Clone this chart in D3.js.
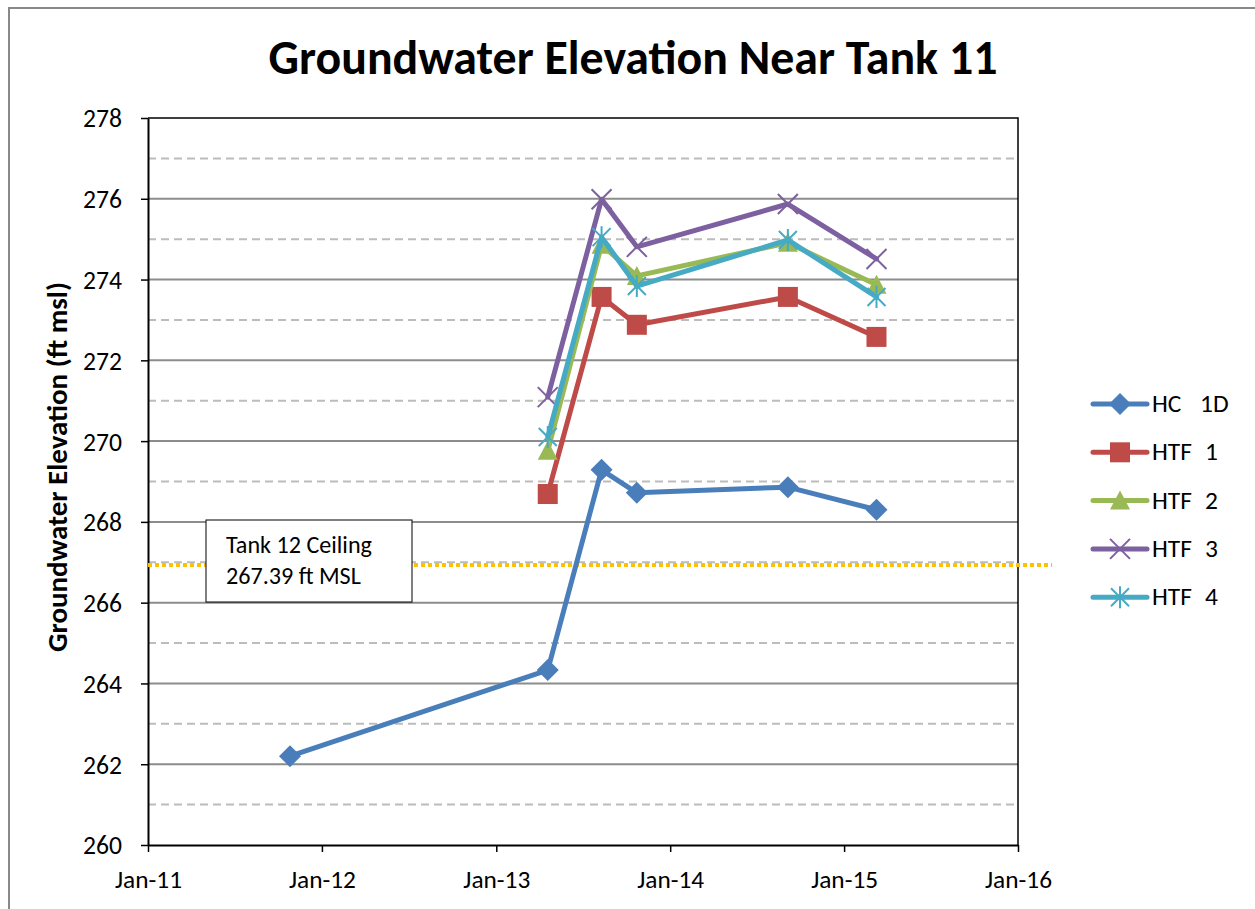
<!DOCTYPE html>
<html>
<head>
<meta charset="utf-8">
<script src="https://cdn.jsdelivr.net/npm/d3@7"></script>
<style>
  body { margin: 0; background: #fff; }
  svg text { font-family: Carlito, Lato, "Liberation Sans", sans-serif; white-space: pre; }
</style>
</head>
<body>
<div id="chart"></div>
<script>
// sampling dates
const dates = ["2011-10-26", "2013-04-19", "2013-08-10", "2013-10-23", "2014-09-05", "2015-03-10"];

// series values, ft msl (null = no reading)
const hc1d = [262.2, 264.33, 269.29, 268.72, 268.86, 268.30];
const htf1 = [null, 268.69, 273.57, 272.88, 273.57, 272.58];
const htf2 = [null, 269.76, 274.86, 274.09, 274.91, 273.87];
const htf3 = [null, 271.09, 275.99, 274.81, 275.87, 274.51];
const htf4 = [null, 270.10, 275.05, 273.84, 274.98, 273.57];

const seriesNames = [["HC", "1D"], ["HTF", "1"], ["HTF", "2"], ["HTF", "3"], ["HTF", "4"]];
const seriesColors = ["#4a7ebb", "#be4b48", "#98b954", "#7d60a0", "#46aac5"];
const seriesMarkers = ["diamond", "square", "triangle", "x", "star"];

const yTicks = [260, 262, 264, 266, 268, 270, 272, 274, 276, 278];
const yMinor = [261, 263, 265, 267, 269, 271, 273, 275, 277];
const xTicks = ["2011-01-01", "2012-01-01", "2013-01-01", "2014-01-01", "2015-01-01", "2016-01-01"];

const ceilingLevel = 266.93;
const ceilingLabel = ["Tank 12 Ceiling", "267.39 ft MSL"];

const W = 1255, H = 909;
const margin = { top: 118, right: 237, bottom: 64, left: 148 };
const parse = d3.timeParse("%Y-%m-%d");

// scale a text's font size so that it spans the given width
function fitWidth(sel, target) {
  const fs = +sel.attr("font-size");
  const w = sel.node().getComputedTextLength();
  const size = fs * target / w;
  sel.attr("font-size", size);
  return size;
}

const svg = d3.select("#chart").append("svg")
  .attr("width", W).attr("height", H);

// outer chart frame
svg.append("path")
  .attr("d", `M9,${H} V8 H${W}`)
  .attr("fill", "none").attr("stroke", "#888").attr("stroke-width", 2);

const x = d3.scaleTime()
  .domain([parse(xTicks[0]), parse(xTicks[xTicks.length - 1])])
  .range([margin.left, W - margin.right]);
const y = d3.scaleLinear()
  .domain([260, 278])
  .range([H - margin.bottom, margin.top]);

// title
const title = svg.append("text")
  .attr("x", 633).attr("y", 74)
  .attr("text-anchor", "middle")
  .attr("font-size", 40).attr("font-weight", "bold")
  .text("Groundwater Elevation Near Tank 11");
fitWidth(title, 729);

// gridlines
svg.append("g").selectAll("line").data(yMinor).join("line")
  .attr("x1", x.range()[0]).attr("x2", x.range()[1])
  .attr("y1", d => y(d)).attr("y2", d => y(d))
  .attr("stroke", "#bcbcbc").attr("stroke-width", 2).attr("stroke-dasharray", "8,5");
svg.append("g").selectAll("line").data(yTicks.slice(1, -1)).join("line")
  .attr("x1", x.range()[0]).attr("x2", x.range()[1])
  .attr("y1", d => y(d)).attr("y2", d => y(d))
  .attr("stroke", "#8c8c8c").attr("stroke-width", 2);

// plot frame (top + right)
svg.append("path")
  .attr("d", `M${x.range()[0]},${y(278)} H${x.range()[1]} V${y(260)}`)
  .attr("fill", "none").attr("stroke", "#000").attr("stroke-width", 1.5);

// axes
const yAxis = svg.append("g")
  .attr("transform", `translate(${margin.left},0)`)
  .call(d3.axisLeft(y).tickValues(yTicks).tickSize(7).tickSizeOuter(0).tickPadding(19));
const xAxis = svg.append("g")
  .attr("transform", `translate(0,${H - margin.bottom})`)
  .call(d3.axisBottom(x).tickValues(xTicks.map(parse)).tickSize(7).tickSizeOuter(0)
    .tickFormat(d3.timeFormat("%b-%y")));
[[yAxis, 39], [xAxis, 67]].forEach(([a, target]) => {
  a.select(".domain").attr("stroke", "#000").attr("stroke-width", 2);
  a.selectAll(".tick line").attr("stroke", "#000").attr("stroke-width", 1.5);
  const labels = a.selectAll(".tick text").attr("font-size", 20).attr("fill", "#000")
    .attr("font-family", "Carlito, Lato, 'Liberation Sans', sans-serif");
  const size = fitWidth(d3.select(labels.node()), target);
  labels.attr("font-size", size);
});
xAxis.selectAll(".tick text").attr("y", 43).attr("dy", 0);
yAxis.selectAll(".tick text").attr("dy", "0.35em");

// axis title
const yTitle = svg.append("text")
  .attr("transform", `translate(67,467) rotate(-90)`)
  .attr("text-anchor", "middle")
  .attr("font-size", 20).attr("font-weight", "bold")
  .text("Groundwater Elevation (ft msl)");
fitWidth(yTitle, 370);

// ceiling line
svg.append("line")
  .attr("x1", x.range()[0]).attr("x2", 1052)
  .attr("y1", y(ceilingLevel)).attr("y2", y(ceilingLevel))
  .attr("stroke", "#ffc000").attr("stroke-width", 4).attr("stroke-dasharray", "4,3");

// annotation box
svg.append("rect")
  .attr("x", 206).attr("y", 520).attr("width", 206).attr("height", 82)
  .attr("fill", "#fff").attr("stroke", "#000").attr("stroke-width", 1);
const note = svg.append("text")
  .attr("x", 226).attr("y", 553)
  .attr("font-size", 20);
note.selectAll("tspan").data(ceilingLabel).join("tspan")
  .attr("x", 226).attr("dy", (d, i) => i ? 31 : 0)
  .text(d => d);
{
  const first = note.select("tspan").node();
  const w = first.getComputedTextLength();
  note.attr("font-size", 20 * 146 / w);
}

// markers
function drawMarker(g, type, color) {
  if (type === "diamond") {
    g.append("path").attr("d", "M0,-11 L11,0 L0,11 L-11,0Z").attr("fill", color);
  } else if (type === "square") {
    g.append("rect").attr("x", -10).attr("y", -10).attr("width", 20).attr("height", 20).attr("fill", color);
  } else if (type === "triangle") {
    g.append("path").attr("d", "M0,-10 L10,9 L-10,9Z").attr("fill", color);
  } else if (type === "x") {
    g.append("path").attr("d", "M-10,-10 L10,10 M10,-10 L-10,10")
      .attr("stroke", color).attr("stroke-width", 2);
  } else {
    g.append("path").attr("d", "M-9,-9 L9,9 M9,-9 L-9,9 M0,-11 V11")
      .attr("stroke", color).attr("stroke-width", 2);
  }
}

const allSeries = [hc1d, htf1, htf2, htf3, htf4];
const line = d3.line()
  .defined(d => d.v != null)
  .x(d => x(d.t)).y(d => y(d.v));

allSeries.forEach((vals, i) => {
  const pts = vals.map((v, j) => ({ t: parse(dates[j]), v }));
  svg.append("path").datum(pts)
    .attr("d", line)
    .attr("fill", "none").attr("stroke", seriesColors[i])
    .attr("stroke-width", 5).attr("stroke-linejoin", "round").attr("stroke-linecap", "round");
  pts.filter(p => p.v != null).forEach(p => {
    const g = svg.append("g").attr("transform", `translate(${x(p.t)},${y(p.v)})`);
    drawMarker(g, seriesMarkers[i], seriesColors[i]);
  });
});

// legend
const legend = svg.append("g");
let legendSize = 20;
seriesNames.forEach(([name, num], i) => {
  const ly = 404 + i * 48.3;
  legend.append("line")
    .attr("x1", 1093).attr("x2", 1147).attr("y1", ly).attr("y2", ly)
    .attr("stroke", seriesColors[i]).attr("stroke-width", 5).attr("stroke-linecap", "round");
  drawMarker(legend.append("g").attr("transform", `translate(1120,${ly})`), seriesMarkers[i], seriesColors[i]);
  const t = legend.append("text")
    .attr("x", 1152).attr("y", ly + 8)
    .attr("font-size", legendSize)
    .text(name);
  if (i === 1) legendSize = fitWidth(t, 40);
  legend.append("text").attr("class", "num")
    .attr("x", i === 0 ? 1200 : 1205).attr("y", ly + 8)
    .attr("font-size", legendSize)
    .text(num);
});
legend.selectAll("text").attr("font-size", legendSize);
</script>
</body>
</html>
